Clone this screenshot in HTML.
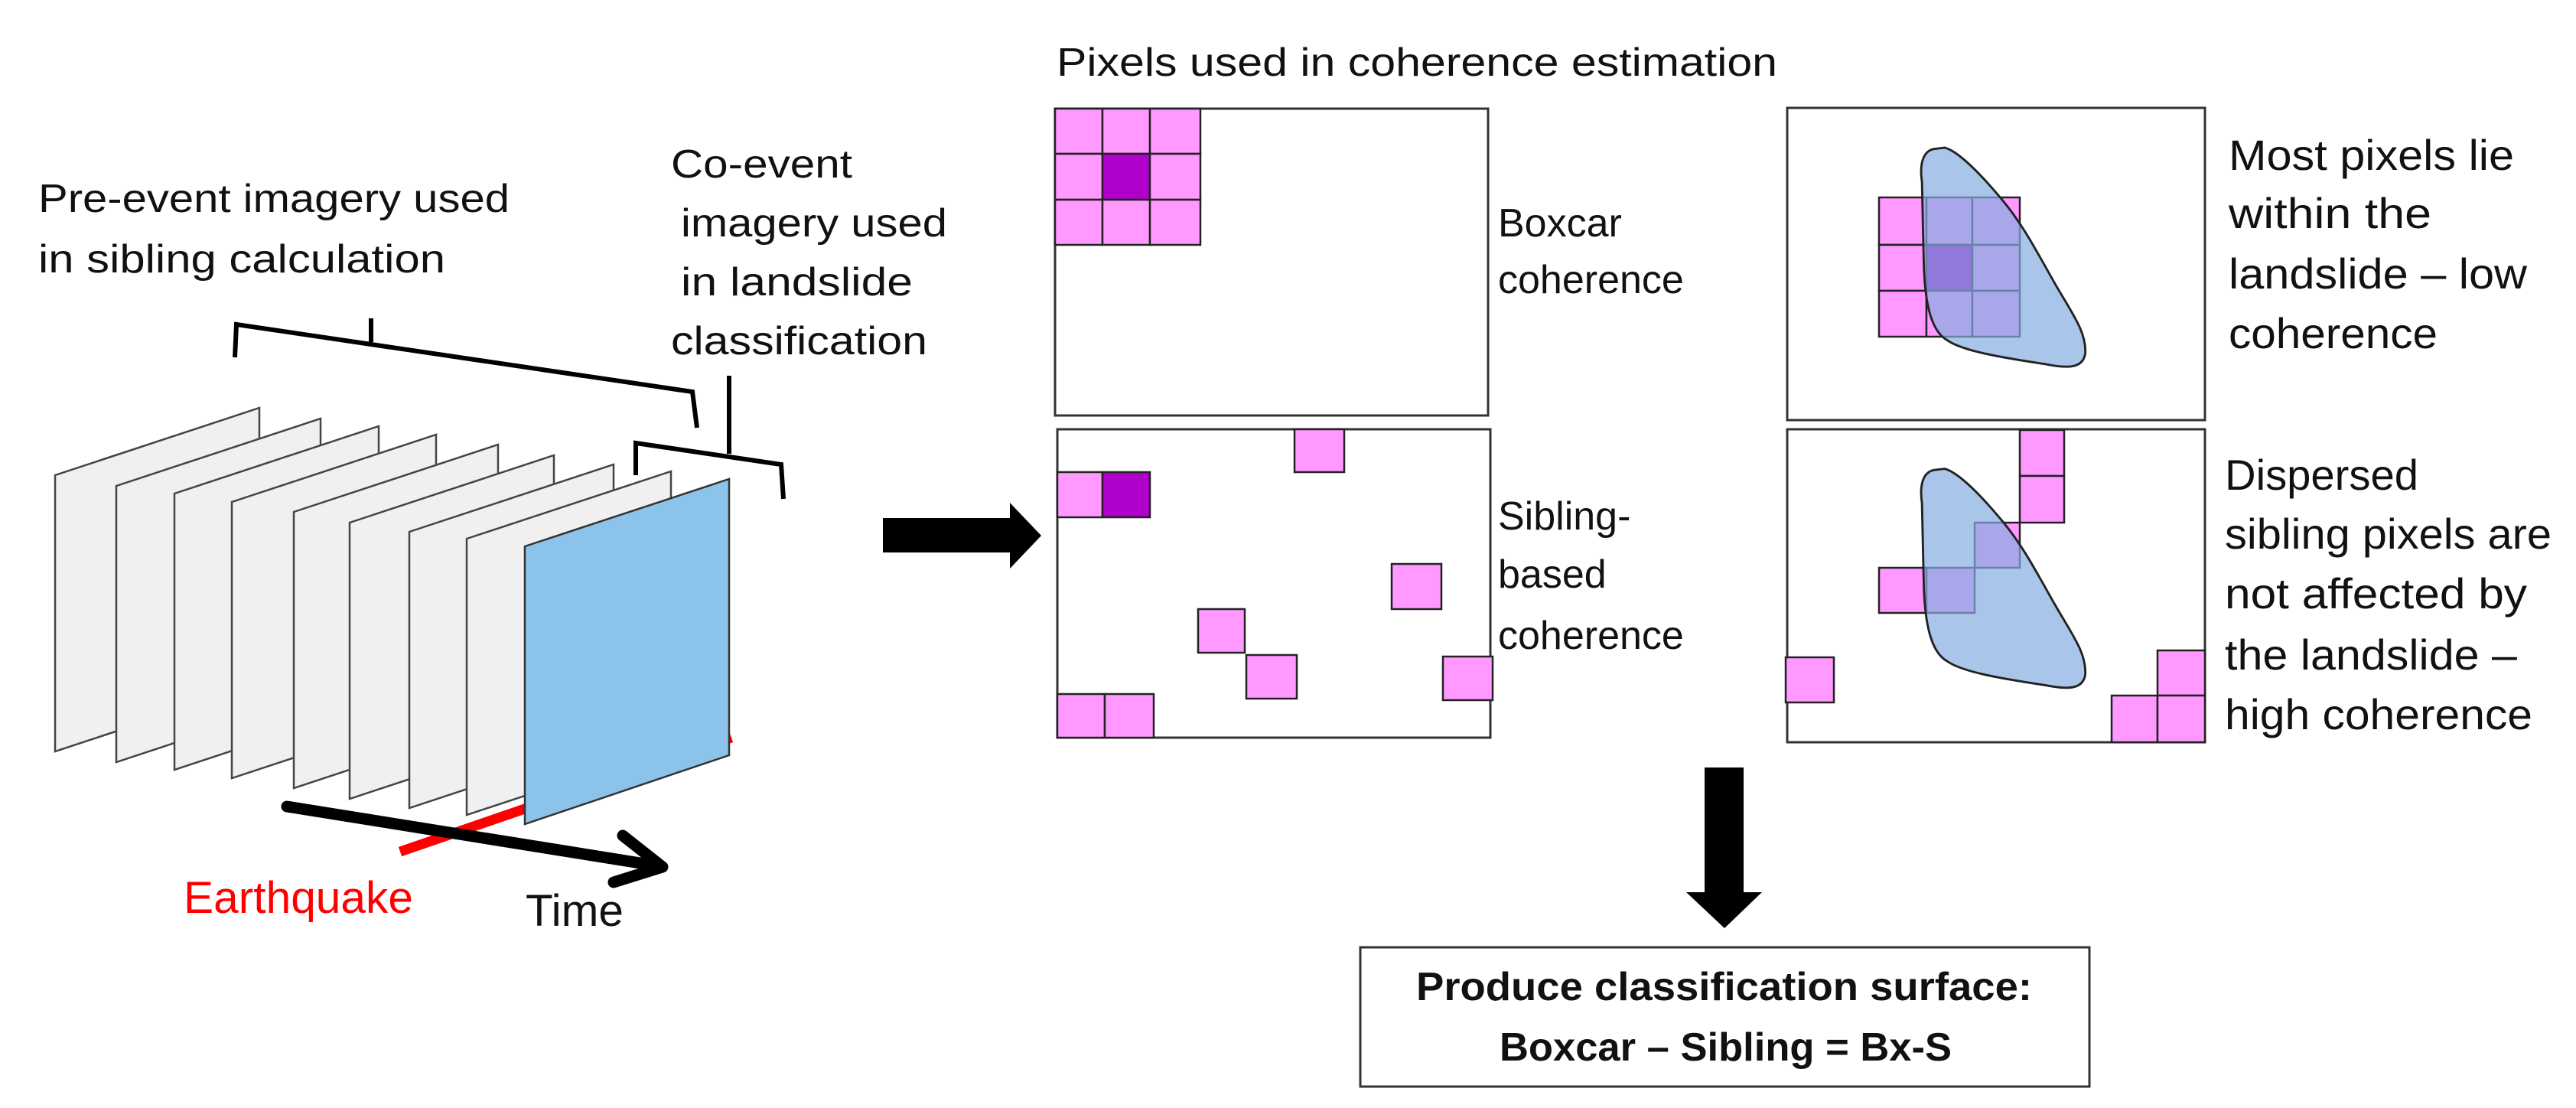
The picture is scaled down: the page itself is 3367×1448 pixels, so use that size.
<!DOCTYPE html>
<html><head><meta charset="utf-8"><style>
html,body{margin:0;padding:0;background:#fff}
svg{display:block}
text{font-family:"Liberation Sans",sans-serif;fill:#111}
</style></head><body>
<svg width="3367" height="1448" viewBox="0 0 3367 1448" xmlns="http://www.w3.org/2000/svg">
<rect width="3367" height="1448" fill="#fff"/>

<!-- left texts -->
<text x="50" y="277" font-size="52" textLength="616" lengthAdjust="spacingAndGlyphs">Pre-event imagery used</text>
<text x="50" y="356" font-size="52" textLength="532" lengthAdjust="spacingAndGlyphs">in sibling calculation</text>
<text x="877" y="232" font-size="52" textLength="237" lengthAdjust="spacingAndGlyphs">Co-event</text>
<text x="890" y="309" font-size="52" textLength="348" lengthAdjust="spacingAndGlyphs">imagery used</text>
<text x="890" y="386" font-size="52" textLength="303" lengthAdjust="spacingAndGlyphs">in landslide</text>
<text x="877" y="463" font-size="52" textLength="335" lengthAdjust="spacingAndGlyphs">classification</text>

<!-- braces -->
<g fill="none" stroke="#000" stroke-width="6">
<polyline points="307,467 309,424 905,512 911,559"/>
<line x1="485" y1="416" x2="485" y2="447"/>
<polyline points="831,621 831,579 1021,607 1024,652"/>
<line x1="953" y1="491" x2="953" y2="593"/>
</g>

<!-- sheets -->
<g fill="#f0f0f0" stroke="#444" stroke-width="2.5" stroke-linejoin="miter">
<polygon points="72,621 339,533 339,894 72,982"/>
<polygon points="152,635 419,547 419,908 152,996"/>
<polygon points="228,645 495,557 495,918 228,1006"/>
<polygon points="303,656 570,568 570,929 303,1017"/>
<polygon points="384,669 651,581 651,942 384,1030"/>
<polygon points="457,683 724,595 724,956 457,1044"/>
<polygon points="535,695 802,607 802,968 535,1056"/>
<polygon points="610,704 877,616 877,977 610,1065"/>
</g>
<line x1="523" y1="1113" x2="956" y2="964" stroke="#f00" stroke-width="13"/>
<polygon points="686,714 953,626 953,987 686,1077" fill="#8cc3ea" stroke="#333" stroke-width="2.5"/>
<g fill="none" stroke="#000" stroke-width="15" stroke-linecap="round" stroke-linejoin="round">
<line x1="375" y1="1054" x2="862" y2="1132"/>
<polyline points="814,1092 866,1133 802,1153"/>
</g>
<text x="240" y="1193" font-size="58" style="fill:#f00" textLength="300" lengthAdjust="spacingAndGlyphs">Earthquake</text>
<text x="687" y="1210" font-size="58" textLength="128" lengthAdjust="spacingAndGlyphs">Time</text>

<!-- middle arrow -->
<polygon points="1154,677 1320,677 1320,657 1361,700 1320,743 1320,722 1154,722" fill="#000"/>

<!-- middle panels -->
<text x="1381" y="99" font-size="52" textLength="942" lengthAdjust="spacingAndGlyphs">Pixels used in coherence estimation</text>
<rect x="1379" y="142" width="566" height="401" fill="#fff" stroke="#333" stroke-width="3"/>
<g stroke="#222" stroke-width="2.5" fill="#ff99ff">
<rect x="1379" y="142" width="62" height="59"/><rect x="1441" y="142" width="62" height="59"/><rect x="1503" y="142" width="66" height="59"/>
<rect x="1379" y="201" width="62" height="60"/><rect x="1441" y="201" width="62" height="60" fill="#b000cc"/><rect x="1503" y="201" width="66" height="60"/>
<rect x="1379" y="261" width="62" height="59"/><rect x="1441" y="261" width="62" height="59"/><rect x="1503" y="261" width="66" height="59"/>
</g>
<rect x="1382" y="561" width="566" height="403" fill="#fff" stroke="#333" stroke-width="3"/>
<g stroke="#222" stroke-width="2.5" fill="#ff99ff">
<rect x="1382" y="617" width="59" height="59"/><rect x="1441" y="617" width="62" height="59" fill="#b000cc"/>
<rect x="1692" y="561" width="65" height="56"/>
<rect x="1819" y="737" width="65" height="59"/>
<rect x="1566" y="796" width="61" height="57"/>
<rect x="1629" y="856" width="66" height="57"/>
<rect x="1886" y="858" width="65" height="57"/>
<rect x="1382" y="907" width="62" height="57"/><rect x="1444" y="907" width="64" height="57"/>
</g>
<g font-size="52">
<text x="1958" y="309">Boxcar</text>
<text x="1958" y="383">coherence</text>
<text x="1958" y="692">Sibling-</text>
<text x="1958" y="768">based</text>
<text x="1958" y="848">coherence</text>
</g>

<!-- right panels -->
<rect x="2336" y="141" width="546" height="408" fill="#fff" stroke="#333" stroke-width="3"/>
<g stroke="#222" stroke-width="2.5" fill="#ff99ff">
<rect x="2456" y="258" width="62" height="62"/><rect x="2518" y="258" width="60" height="62"/><rect x="2578" y="258" width="62" height="62"/>
<rect x="2456" y="320" width="62" height="60"/><rect x="2518" y="320" width="60" height="60" fill="#b000cc"/><rect x="2578" y="320" width="62" height="60"/>
<rect x="2456" y="380" width="62" height="60"/><rect x="2518" y="380" width="60" height="60"/><rect x="2578" y="380" width="62" height="60"/>
</g>
<g transform="translate(2100,100) scale(0.574)">
<path d="M745,165 C720,170 712,200 718,240 L722,420 C724,520 740,580 775,600 C810,625 900,640 1000,655 C1050,665 1085,665 1090,630 C1092,580 1060,540 1020,470 C980,400 950,340 900,280 C850,220 800,170 770,162 Z" fill="rgb(133,173,225)" fill-opacity="0.7" stroke="#222" stroke-width="5"/>
</g>

<rect x="2336" y="561" width="546" height="409" fill="#fff" stroke="#333" stroke-width="3"/>
<g stroke="#222" stroke-width="2.5" fill="#ff99ff">
<rect x="2640" y="562" width="58" height="60"/><rect x="2640" y="622" width="58" height="61"/>
<rect x="2581" y="683" width="59" height="59"/>
<rect x="2456" y="742" width="62" height="59"/><rect x="2518" y="742" width="63" height="59"/>
<rect x="2334" y="859" width="63" height="59"/>
<rect x="2820" y="850" width="62" height="59"/><rect x="2760" y="909" width="60" height="61"/><rect x="2820" y="909" width="62" height="61"/>
</g>
<g transform="translate(2100,100) scale(0.574) translate(0,731)">
<path d="M745,165 C720,170 712,200 718,240 L722,420 C724,520 740,580 775,600 C810,625 900,640 1000,655 C1050,665 1085,665 1090,630 C1092,580 1060,540 1020,470 C980,400 950,340 900,280 C850,220 800,170 770,162 Z" fill="rgb(133,173,225)" fill-opacity="0.7" stroke="#222" stroke-width="5"/>
</g>

<g font-size="56">
<text x="2913" y="222" textLength="373" lengthAdjust="spacingAndGlyphs">Most pixels lie</text>
<text x="2913" y="298" textLength="265" lengthAdjust="spacingAndGlyphs">within the</text>
<text x="2913" y="377" textLength="390" lengthAdjust="spacingAndGlyphs">landslide – low</text>
<text x="2913" y="455" textLength="273" lengthAdjust="spacingAndGlyphs">coherence</text>
<text x="2908" y="640" textLength="253" lengthAdjust="spacingAndGlyphs">Dispersed</text>
<text x="2908" y="717" textLength="427" lengthAdjust="spacingAndGlyphs">sibling pixels are</text>
<text x="2908" y="795" textLength="395" lengthAdjust="spacingAndGlyphs">not affected by</text>
<text x="2908" y="875" textLength="382" lengthAdjust="spacingAndGlyphs">the landslide –</text>
<text x="2908" y="953" textLength="402" lengthAdjust="spacingAndGlyphs">high coherence</text>
</g>

<!-- down arrow -->
<polygon points="2228,1003 2279,1003 2279,1166 2303,1166 2254,1213 2204,1166 2228,1166" fill="#000"/>

<!-- bottom box -->
<rect x="1778" y="1238" width="953" height="182" fill="#fff" stroke="#333" stroke-width="3"/>
<text x="1851" y="1307" font-size="52" font-weight="bold" textLength="805" lengthAdjust="spacingAndGlyphs">Produce classification surface:</text>
<text x="1960" y="1386" font-size="52" font-weight="bold" textLength="591" lengthAdjust="spacingAndGlyphs">Boxcar – Sibling = Bx-S</text>
</svg>
</body></html>
